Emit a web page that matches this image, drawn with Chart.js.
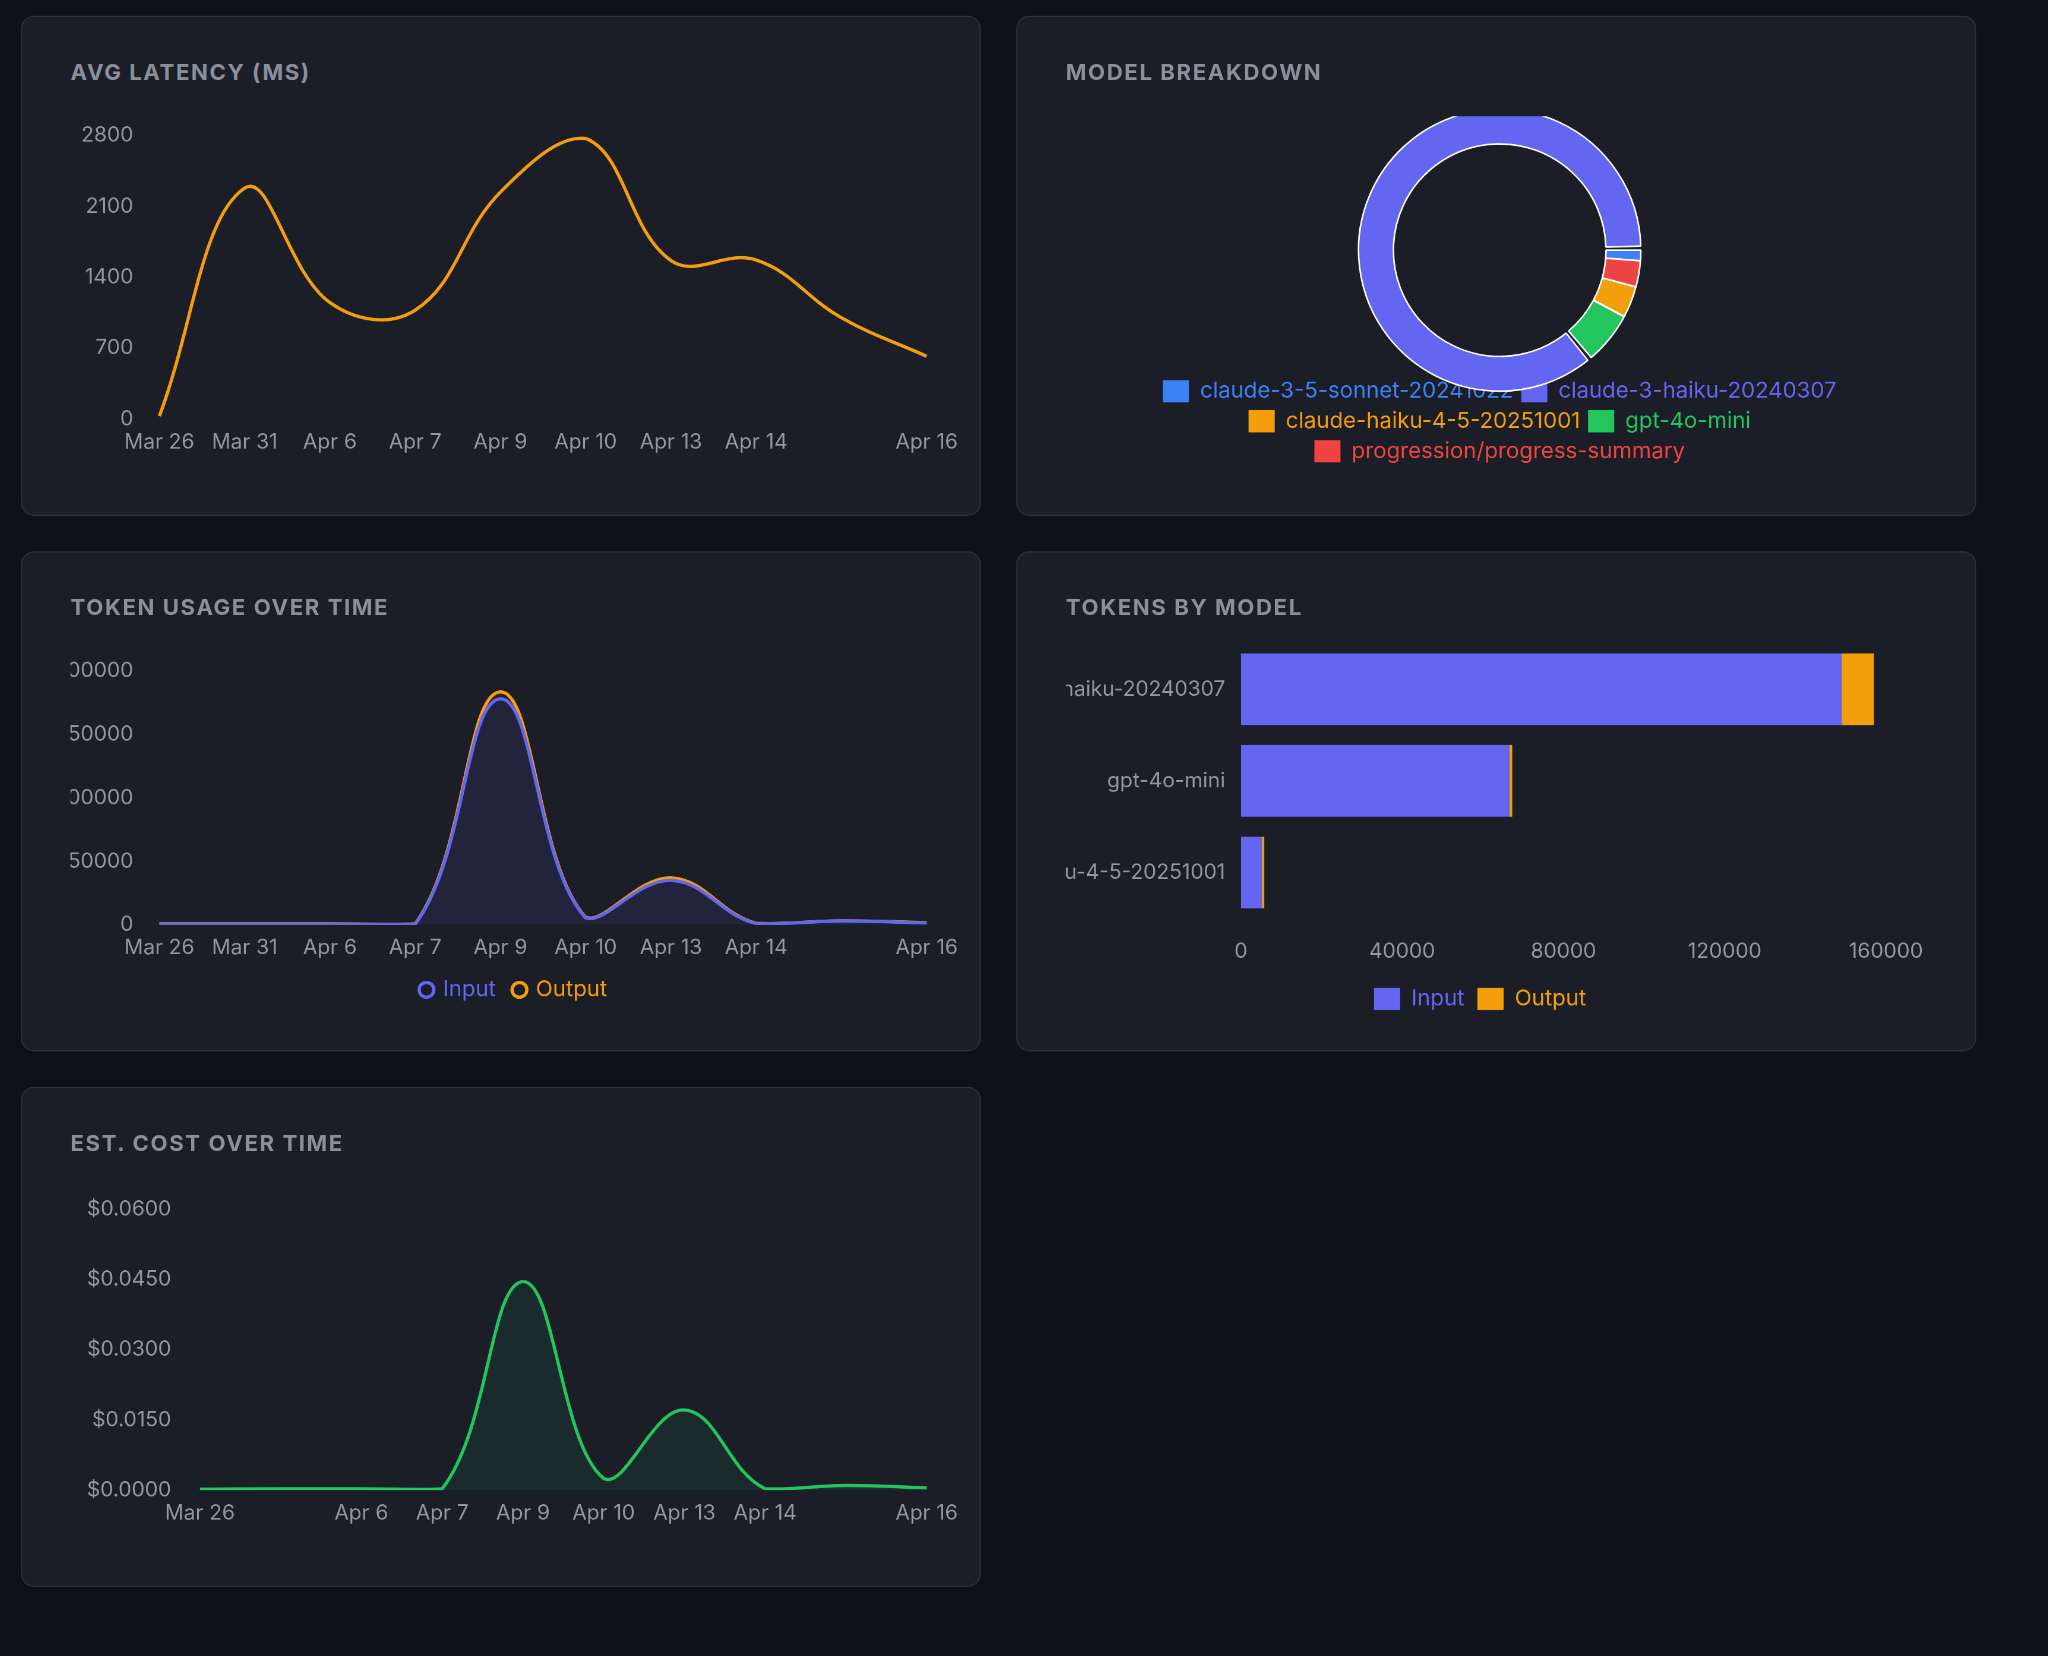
<!DOCTYPE html>
<html><head><meta charset="utf-8">
<script src="https://cdn.jsdelivr.net/npm/chart.js@4"></script>
<style>
html,body{margin:0;padding:0;background:#0e1118;overflow:hidden;}
#wrap{position:absolute;left:0;top:0;width:1568px;height:1268px;transform:scale(1.30612);transform-origin:0 0;font-family:Inter,"Noto Sans",sans-serif;}
.card{position:absolute;width:735px;height:383px;background:#1b1e27;border:1px solid #2b2f3a;border-radius:10px;box-sizing:border-box;overflow:hidden;}
.title{position:absolute;left:37px;top:32px;font-size:17px;font-weight:700;letter-spacing:1.2px;color:#8a8f9c;}
.cv{position:absolute;}
</style></head><body>
<div id="wrap">
 <div class="card" style="left:16px;top:12px"><div class="title">AVG LATENCY (MS)</div><div class="cv" style="left:37px;top:69px;width:679px;height:266px"><canvas id="c1"></canvas></div></div>
 <div class="card" style="left:778px;top:12px"><div class="title">MODEL BREAKDOWN</div><div class="cv" style="left:37px;top:76px;width:664px;height:275px"><canvas id="c2"></canvas></div></div>
 <div class="card" style="left:16px;top:422px"><div class="title">TOKEN USAGE OVER TIME</div><div class="cv" style="left:37px;top:69px;width:679px;height:284px"><canvas id="c3"></canvas></div></div>
 <div class="card" style="left:778px;top:422px"><div class="title">TOKENS BY MODEL</div><div class="cv" style="left:37px;top:56px;width:664px;height:304px"><canvas id="c4"></canvas></div></div>
 <div class="card" style="left:16px;top:832px"><div class="title">EST. COST OVER TIME</div><div class="cv" style="left:37px;top:69px;width:679px;height:266px"><canvas id="c5"></canvas></div></div>
</div>
<script>
const dates = ['Mar 26','Mar 31','Apr 6','Apr 7','Apr 9','Apr 10','Apr 13','Apr 14','Apr 15','Apr 16'];
const latencyMs = [30,2280,1150,1075,2240,2770,1565,1570,1000,620];
const inputTokens = [500,500,500,500,178000,5500,35000,1000,3000,1500];
const outputTokens = [300,300,300,300,5500,400,2000,200,200,200];
const costUsd = [0.0002,0.0003,0.0003,0.0003,0.0445,0.0025,0.0171,0.0003,0.001,0.0005];
const modelNames = ['claude-3-5-sonnet-20241022','progression/progress-summary','claude-haiku-4-5-20251001','gpt-4o-mini','claude-3-haiku-20240307'];
const modelShares = [1.2,3,3.6,6,86.2];
const modelColors = ['#3b82f6','#ef4444','#f59e0b','#22c55e','#6366f1'];
const barModels = ['claude-3-haiku-20240307','gpt-4o-mini','claude-haiku-4-5-20251001'];
const barInput = [149000,66600,5200];
const barOutput = [8000,700,600];
const latencyTicks = [0,700,1400,2100,2800];

const ORANGE='#f59e0b', PURPLE='#6366f1', GREEN='#22c55e', TICK='#9197a3';
Chart.defaults.font.family='Inter, "Noto Sans", sans-serif';
Chart.defaults.font.size=16;
Chart.defaults.color=TICK;
Chart.defaults.devicePixelRatio=2.2;
Chart.defaults.animation=false;
Chart.defaults.maintainAspectRatio=false;
Chart.defaults.responsive=true;

const plain = v => String(v);
const xHide = hidden => ({grid:{display:false},border:{display:false},ticks:{autoSkip:false,maxRotation:0,padding:0,
  callback:function(v,i){return hidden.includes(i)?'':this.getLabelForValue(v);}}});
const fillColorLegend = {labels:{boxWidth:20,boxHeight:17,font:{size:17},
  generateLabels(ch){return Chart.defaults.plugins.legend.labels.generateLabels(ch).map(l=>Object.assign(l,{fontColor:l.fillStyle,strokeStyle:l.fillStyle,lineWidth:0}));}}};

new Chart(c1,{type:'line',data:{labels:dates,datasets:[{data:latencyMs,borderColor:ORANGE,borderWidth:2.5,tension:0.4,pointRadius:0,fill:false}]},
 options:{plugins:{legend:{display:false}},
  scales:{x:xHide([8]),y:{min:0,max:2800,grid:{display:false},border:{display:false},
   afterBuildTicks:s=>{s.ticks=latencyTicks.map(v=>({value:v}));},ticks:{padding:12,callback:plain},afterFit:s=>{s.width=68;}}}}});

new Chart(c2,{type:'doughnut',data:{labels:modelNames,datasets:[{data:modelShares,backgroundColor:modelColors,borderColor:'#ffffff',borderWidth:1.2,spacing:2}]},
 options:{rotation:90,radius:107,cutout:69,layout:{padding:{top:9}},
  plugins:{legend:{position:'bottom',labels:{boxWidth:20,boxHeight:17,font:{size:17},padding:6,
   sort:(a,b)=>a.text.localeCompare(b.text),
   generateLabels(ch){return Chart.overrides.doughnut.plugins.legend.labels.generateLabels(ch).map(l=>Object.assign(l,{fontColor:l.fillStyle,strokeStyle:l.fillStyle,lineWidth:0}));}}}}}});

new Chart(c3,{type:'line',data:{labels:dates,datasets:[
 {label:'Input',data:inputTokens,borderColor:PURPLE,backgroundColor:'rgba(99,102,241,0.10)',fill:'origin',borderWidth:2.5,tension:0.4,pointRadius:0},
 {label:'Output',data:outputTokens,borderColor:ORANGE,backgroundColor:'rgba(245,158,11,0.03)',fill:'-1',borderWidth:2.5,tension:0.4,pointRadius:0}]},
 options:{plugins:{legend:{position:'bottom',labels:{usePointStyle:true,pointStyle:'circle',boxWidth:8,boxHeight:8,font:{size:17},padding:14,
   generateLabels(ch){return Chart.defaults.plugins.legend.labels.generateLabels(ch).map(l=>Object.assign(l,{fontColor:l.strokeStyle,fillStyle:'#1b1e27',lineWidth:2.5}));}}}},
  scales:{x:xHide([8]),y:{stacked:true,min:0,max:200000,grid:{display:false},border:{display:false},ticks:{stepSize:50000,padding:12,callback:plain},afterFit:s=>{s.width=68;}}}}});

new Chart(c4,{type:'bar',data:{labels:barModels,datasets:[
 {label:'Input',data:barInput,backgroundColor:PURPLE,barPercentage:0.85,categoryPercentage:0.92},
 {label:'Output',data:barOutput,backgroundColor:ORANGE,barPercentage:0.85,categoryPercentage:0.92}]},
 options:{indexAxis:'y',layout:{padding:{right:30}},plugins:{legend:Object.assign({position:'bottom'},fillColorLegend)},
  scales:{x:{stacked:true,min:0,max:160000,grid:{display:false},border:{display:false},ticks:{stepSize:40000,padding:8,callback:plain}},
   y:{stacked:true,grid:{display:false},border:{display:false},ticks:{padding:4},afterFit:s=>{s.width=134;}}}}});

new Chart(c5,{type:'line',data:{labels:dates,datasets:[{data:costUsd,borderColor:GREEN,backgroundColor:'rgba(34,197,94,0.08)',fill:'origin',borderWidth:2.5,tension:0.4,pointRadius:0}]},
 options:{plugins:{legend:{display:false}},
  scales:{x:xHide([1,8]),y:{min:0,max:0.06,grid:{display:false},border:{display:false},ticks:{stepSize:0.015,padding:14,callback:v=>'$'+Number(v).toFixed(4)},afterFit:s=>{s.width=99;}}}}});
</script>
</body></html>
